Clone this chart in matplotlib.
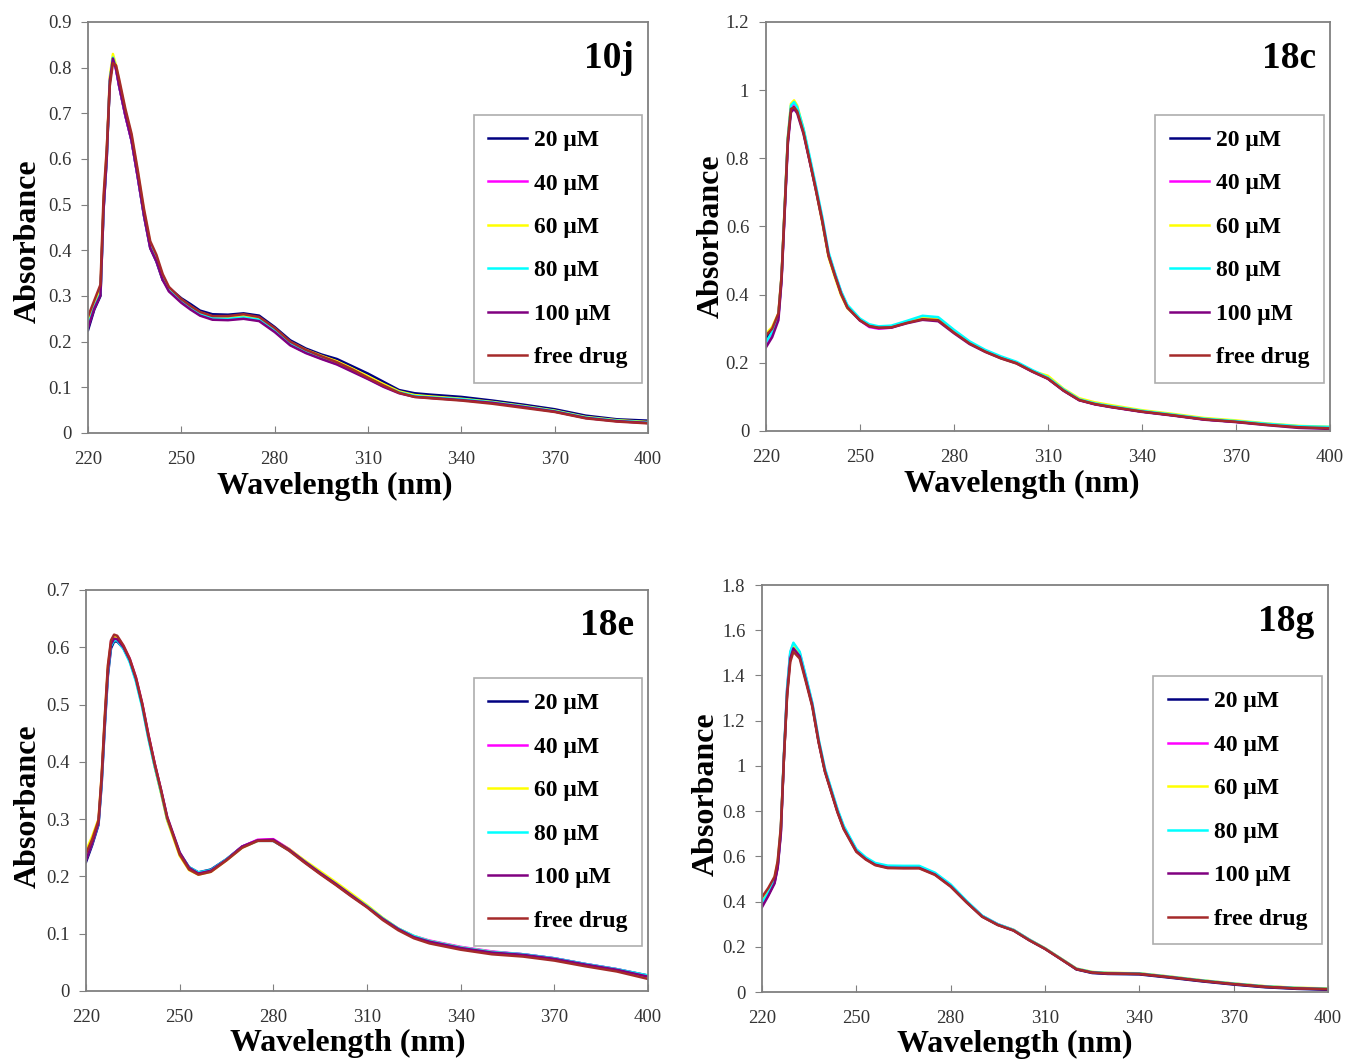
import matplotlib
matplotlib.use("Agg")
import matplotlib.pyplot as plt
from matplotlib.ticker import FuncFormatter, MultipleLocator

# --- Data ---
WAVELENGTH = [220, 222, 224, 225, 226, 227, 228, 229, 230, 232, 234, 236, 238, 240, 242, 244, 246,
              250, 253, 256, 260, 265, 270, 275, 280, 285, 290, 295,
              300, 305, 310, 315, 320, 325, 330, 340, 350, 360, 370, 380, 390, 400]
X_TICKS = [220, 250, 280, 310, 340, 370, 400]

SERIES = ["20 \u03bcM", "40 \u03bcM", "60 \u03bcM", "80 \u03bcM", "100 \u03bcM", "free drug"]
COLORS = ["#000080", "#FF00FF", "#FFFF00", "#00FFFF", "#800080", "#A52A2A"]

PANELS = ["10j", "18c", "18e", "18g"]

ABS_10J = [
    [0.225, 0.27, 0.30, 0.49, 0.60, 0.77, 0.82, 0.80, 0.76, 0.695, 0.64, 0.56, 0.475, 0.405, 0.375, 0.335, 0.318,
     0.295, 0.282, 0.268, 0.26, 0.259, 0.262, 0.257, 0.232, 0.203, 0.185, 0.172,
     0.162, 0.146, 0.13, 0.112, 0.094, 0.087, 0.084, 0.079, 0.071, 0.062, 0.052, 0.038, 0.03, 0.027],
    [0.24, 0.28, 0.31, 0.50, 0.61, 0.775, 0.818, 0.795, 0.76, 0.695, 0.64, 0.56, 0.478, 0.408, 0.378, 0.338, 0.312,
     0.287, 0.272, 0.258, 0.25, 0.249, 0.251, 0.247, 0.223, 0.193, 0.176, 0.163,
     0.151, 0.136, 0.119, 0.102, 0.088, 0.08, 0.077, 0.073, 0.066, 0.057, 0.047, 0.033, 0.026, 0.022],
    [0.245, 0.285, 0.315, 0.505, 0.615, 0.78, 0.83, 0.805, 0.77, 0.705, 0.65, 0.57, 0.485, 0.415, 0.385, 0.345, 0.318,
     0.292, 0.277, 0.264, 0.255, 0.254, 0.257, 0.252, 0.228, 0.199, 0.182, 0.169,
     0.157, 0.141, 0.124, 0.107, 0.091, 0.083, 0.08, 0.075, 0.068, 0.059, 0.049, 0.035, 0.028, 0.024],
    [0.235, 0.275, 0.305, 0.495, 0.605, 0.77, 0.822, 0.798, 0.762, 0.698, 0.642, 0.562, 0.478, 0.408, 0.378, 0.337, 0.312,
     0.288, 0.273, 0.26, 0.251, 0.25, 0.253, 0.248, 0.224, 0.195, 0.178, 0.165,
     0.153, 0.137, 0.12, 0.103, 0.089, 0.081, 0.078, 0.074, 0.067, 0.058, 0.048, 0.034, 0.027, 0.023],
    [0.23, 0.272, 0.302, 0.49, 0.60, 0.77, 0.82, 0.797, 0.76, 0.696, 0.64, 0.56, 0.476, 0.405, 0.376, 0.335, 0.31,
     0.285, 0.27, 0.257, 0.248, 0.247, 0.25, 0.245, 0.221, 0.192, 0.175, 0.162,
     0.15, 0.134, 0.118, 0.101, 0.087, 0.079, 0.077, 0.072, 0.066, 0.057, 0.047, 0.033, 0.026, 0.022],
    [0.255, 0.29, 0.325, 0.52, 0.62, 0.76, 0.81, 0.805, 0.775, 0.71, 0.655, 0.575, 0.49, 0.42, 0.39, 0.348, 0.32,
     0.293, 0.278, 0.265, 0.256, 0.256, 0.26, 0.254, 0.23, 0.2, 0.182, 0.168,
     0.155, 0.139, 0.121, 0.104, 0.088, 0.079, 0.076, 0.071, 0.064, 0.055, 0.046, 0.032, 0.025, 0.021],
]

ABS_18C = [
    [0.27, 0.295, 0.34, 0.45, 0.65, 0.85, 0.945, 0.955, 0.94, 0.878, 0.793, 0.708, 0.618, 0.515, 0.458, 0.405, 0.364,
     0.326, 0.309, 0.304, 0.305, 0.318, 0.33, 0.327, 0.291, 0.259, 0.235, 0.216,
     0.2, 0.176, 0.154, 0.119, 0.091, 0.079, 0.071, 0.057, 0.046, 0.034, 0.027, 0.019, 0.012, 0.009],
    [0.255, 0.285, 0.335, 0.445, 0.645, 0.85, 0.95, 0.96, 0.945, 0.882, 0.797, 0.712, 0.622, 0.52, 0.462, 0.408, 0.366,
     0.325, 0.305, 0.3, 0.303, 0.319, 0.335, 0.331, 0.293, 0.259, 0.235, 0.215,
     0.199, 0.175, 0.154, 0.119, 0.091, 0.079, 0.071, 0.057, 0.046, 0.034, 0.027, 0.019, 0.012, 0.009],
    [0.285, 0.305, 0.345, 0.455, 0.66, 0.86, 0.96, 0.97, 0.955, 0.885, 0.795, 0.705, 0.612, 0.51, 0.452, 0.398, 0.36,
     0.326, 0.31, 0.305, 0.306, 0.32, 0.333, 0.329, 0.292, 0.258, 0.233, 0.213,
     0.198, 0.176, 0.162, 0.124, 0.096, 0.084, 0.076, 0.061, 0.05, 0.038, 0.031, 0.022, 0.015, 0.012],
    [0.26, 0.29, 0.338, 0.45, 0.655, 0.86, 0.955, 0.965, 0.95, 0.888, 0.805, 0.718, 0.628, 0.525, 0.465, 0.41, 0.37,
     0.33, 0.313, 0.307, 0.309, 0.323, 0.338, 0.334, 0.297, 0.263, 0.238, 0.219,
     0.203, 0.179, 0.157, 0.122, 0.093, 0.081, 0.073, 0.059, 0.048, 0.036, 0.029, 0.021, 0.014, 0.012],
    [0.245, 0.275, 0.325, 0.44, 0.64, 0.84, 0.935, 0.945, 0.932, 0.872, 0.79, 0.705, 0.615, 0.515, 0.457, 0.402, 0.362,
     0.324, 0.307, 0.302, 0.303, 0.316, 0.326, 0.322, 0.287, 0.255, 0.232, 0.213,
     0.198, 0.174, 0.153, 0.118, 0.09, 0.078, 0.07, 0.056, 0.045, 0.033, 0.026, 0.017, 0.009, 0.006],
    [0.28, 0.3, 0.345, 0.455, 0.655, 0.855, 0.945, 0.95, 0.938, 0.876, 0.792, 0.707, 0.617, 0.515, 0.457, 0.403, 0.363,
     0.325, 0.308, 0.303, 0.304, 0.317, 0.328, 0.325, 0.289, 0.257, 0.233, 0.214,
     0.199, 0.175, 0.154, 0.119, 0.091, 0.079, 0.071, 0.057, 0.046, 0.034, 0.027, 0.018, 0.011, 0.008],
]

ABS_18E = [
    [0.225, 0.255, 0.29, 0.36, 0.46, 0.55, 0.598, 0.61, 0.61, 0.598, 0.576, 0.543, 0.498, 0.443, 0.393, 0.348, 0.3,
     0.24, 0.216, 0.207, 0.212, 0.23, 0.252, 0.263, 0.262, 0.246, 0.225, 0.205,
     0.186, 0.166, 0.147, 0.126, 0.108, 0.095, 0.087, 0.076, 0.068, 0.064, 0.057, 0.047, 0.038, 0.027],
    [0.235, 0.262, 0.295, 0.37, 0.47, 0.56, 0.61, 0.62, 0.618, 0.602, 0.58, 0.547, 0.502, 0.447, 0.397, 0.351, 0.303,
     0.24, 0.214, 0.204, 0.209, 0.229, 0.252, 0.264, 0.265, 0.248, 0.227, 0.207,
     0.188, 0.168, 0.148, 0.127, 0.109, 0.096, 0.088, 0.077, 0.069, 0.064, 0.057, 0.047, 0.038, 0.026],
    [0.245, 0.27, 0.3, 0.375, 0.475, 0.565, 0.608, 0.618, 0.616, 0.6, 0.577, 0.543, 0.498, 0.442, 0.392, 0.346, 0.298,
     0.236, 0.211, 0.203, 0.208, 0.228, 0.25, 0.262, 0.263, 0.248, 0.228, 0.209,
     0.19, 0.17, 0.15, 0.128, 0.109, 0.096, 0.087, 0.076, 0.068, 0.063, 0.056, 0.046, 0.037, 0.025],
    [0.23, 0.258, 0.292, 0.365, 0.465, 0.555, 0.602, 0.612, 0.612, 0.597, 0.574, 0.54, 0.495, 0.44, 0.392, 0.348, 0.301,
     0.241, 0.216, 0.207, 0.211, 0.23, 0.251, 0.262, 0.262, 0.246, 0.226, 0.206,
     0.187, 0.167, 0.148, 0.127, 0.109, 0.096, 0.087, 0.076, 0.068, 0.064, 0.057, 0.047, 0.038, 0.027],
    [0.228, 0.258, 0.293, 0.368, 0.468, 0.558, 0.605, 0.615, 0.614, 0.6, 0.578, 0.545, 0.5, 0.445, 0.396, 0.352, 0.304,
     0.242, 0.215, 0.205, 0.21, 0.229, 0.252, 0.263, 0.264, 0.247, 0.226, 0.206,
     0.187, 0.167, 0.147, 0.126, 0.108, 0.094, 0.086, 0.075, 0.067, 0.063, 0.056, 0.046, 0.037, 0.025],
    [0.24, 0.265, 0.298, 0.375, 0.478, 0.568, 0.612, 0.622, 0.62, 0.603, 0.58, 0.547, 0.502, 0.447, 0.397, 0.351, 0.302,
     0.238, 0.212, 0.203, 0.208, 0.228, 0.25, 0.262, 0.262, 0.245, 0.224, 0.204,
     0.185, 0.165, 0.146, 0.124, 0.106, 0.092, 0.083, 0.072, 0.064, 0.06, 0.053, 0.043, 0.034, 0.021],
]

ABS_18G = [
    [0.385, 0.43, 0.485, 0.555, 0.71, 1.04, 1.33, 1.49, 1.53, 1.49, 1.38, 1.27, 1.11, 0.98, 0.89, 0.80, 0.725,
     0.625, 0.59, 0.565, 0.553, 0.552, 0.552, 0.522, 0.47, 0.40, 0.335, 0.298,
     0.273, 0.23, 0.192, 0.147, 0.1, 0.084, 0.08, 0.078, 0.063, 0.047, 0.033, 0.021, 0.014, 0.01],
    [0.39, 0.44, 0.495, 0.565, 0.715, 1.05, 1.34, 1.5, 1.54, 1.5, 1.39, 1.275, 1.115, 0.985, 0.895, 0.805, 0.73,
     0.628, 0.592, 0.567, 0.556, 0.555, 0.555, 0.525, 0.473, 0.402, 0.337, 0.3,
     0.275, 0.232, 0.193, 0.148, 0.103, 0.088, 0.084, 0.082, 0.067, 0.051, 0.037, 0.025, 0.018, 0.014],
    [0.41, 0.455, 0.505, 0.575, 0.725, 1.05, 1.33, 1.485, 1.53, 1.495, 1.385, 1.272, 1.112, 0.982, 0.892, 0.802, 0.727,
     0.626, 0.59, 0.566, 0.554, 0.553, 0.553, 0.523, 0.471, 0.401, 0.336, 0.299,
     0.275, 0.232, 0.194, 0.149, 0.104, 0.089, 0.085, 0.083, 0.068, 0.052, 0.038, 0.026, 0.019, 0.016],
    [0.395, 0.44, 0.495, 0.565, 0.72, 1.06, 1.345, 1.505, 1.545, 1.505, 1.395, 1.28, 1.12, 0.99, 0.9, 0.81, 0.735,
     0.632, 0.596, 0.571, 0.559, 0.558, 0.558, 0.528, 0.476, 0.404, 0.338, 0.3,
     0.275, 0.232, 0.193, 0.148, 0.103, 0.088, 0.084, 0.082, 0.067, 0.051, 0.037, 0.025, 0.018, 0.014],
    [0.375, 0.425, 0.48, 0.55, 0.70, 1.04, 1.32, 1.475, 1.52, 1.485, 1.378, 1.268, 1.108, 0.978, 0.888, 0.798, 0.723,
     0.623, 0.588, 0.563, 0.55, 0.549, 0.549, 0.52, 0.468, 0.398, 0.334, 0.297,
     0.272, 0.229, 0.191, 0.146, 0.101, 0.086, 0.082, 0.08, 0.065, 0.049, 0.035, 0.023, 0.016, 0.012],
    [0.42, 0.46, 0.51, 0.58, 0.73, 1.04, 1.31, 1.46, 1.505, 1.475, 1.37, 1.262, 1.105, 0.975, 0.885, 0.795, 0.72,
     0.62, 0.586, 0.561, 0.548, 0.547, 0.547, 0.518, 0.466, 0.397, 0.333, 0.296,
     0.272, 0.229, 0.191, 0.146, 0.101, 0.086, 0.082, 0.08, 0.065, 0.049, 0.035, 0.023, 0.016, 0.013],
]

Y_MAX = [0.9, 1.2, 0.7, 1.8]
Y_STEP = [0.1, 0.2, 0.1, 0.2]

# --- Layout (figure fractions) ---
AX_RECTS = [
    [0.0654, 0.5923, 0.4160, 0.3870],
    [0.5690, 0.5942, 0.4190, 0.3851],
    [0.0639, 0.0669, 0.4175, 0.3776],
    [0.5661, 0.0659, 0.4205, 0.3832],
]
LEGEND_TOP = [0.774, 0.773, 0.780, 0.776]
XLABEL_X = [0.44, 0.454, 0.466, 0.447]
YLABEL_POS = [(-0.107, 0.467), (-0.096, 0.477), (-0.103, 0.461), (-0.099, 0.486)]

SERIF = ["Liberation Serif", "DejaVu Serif"]
SPINE = "#808080"

fig = plt.figure(figsize=(13.46, 10.62), dpi=100)
data = [ABS_10J, ABS_18C, ABS_18E, ABS_18G]

for i, name in enumerate(PANELS):
    ax = fig.add_axes(AX_RECTS[i])
    for vals, lab, col in zip(data[i], SERIES, COLORS):
        ax.plot(WAVELENGTH, vals, color=col, lw=1.8, label=lab)

    ax.set_xlim(220, 400)
    ax.set_ylim(0, Y_MAX[i])
    ax.set_xticks(X_TICKS)
    ax.yaxis.set_major_locator(MultipleLocator(Y_STEP[i]))
    ax.yaxis.set_major_formatter(FuncFormatter(lambda v, p: f"{v:g}"))

    for s in ax.spines.values():
        s.set_color(SPINE)
        s.set_linewidth(1.3)
    ax.tick_params(axis="x", direction="in", length=5, color=SPINE, pad=13, labelsize=13.5)
    ax.tick_params(axis="y", direction="out", length=5, color=SPINE, pad=7, labelsize=13.5)
    for t in ax.get_xticklabels() + ax.get_yticklabels():
        t.set_family(SERIF)
        t.set_color("#333333")

    ax.set_xlabel("Wavelength (nm)", family=SERIF, fontweight="bold", fontsize=23)
    ax.xaxis.set_label_coords(XLABEL_X[i], -0.13)
    ax.xaxis.label.set_verticalalignment("center")
    ax.set_ylabel("Absorbance", family=SERIF, fontweight="bold", fontsize=23)
    ax.yaxis.set_label_coords(*YLABEL_POS[i])
    ax.yaxis.label.set_verticalalignment("center")

    ax.text(0.975, 0.888, name, transform=ax.transAxes, ha="right", va="baseline",
            family=SERIF, fontweight="bold", fontsize=27)

    leg = ax.legend(loc="upper right", bbox_to_anchor=(0.99, LEGEND_TOP[i]),
                    prop={"family": SERIF, "weight": "bold", "size": 17},
                    frameon=True, fancybox=False, edgecolor="#999999",
                    handlelength=1.65, handletextpad=0.3, labelspacing=0.93,
                    borderpad=0.62, borderaxespad=0)
    leg.get_frame().set_linewidth(1.2)

fig.savefig("out.png", dpi=100)
